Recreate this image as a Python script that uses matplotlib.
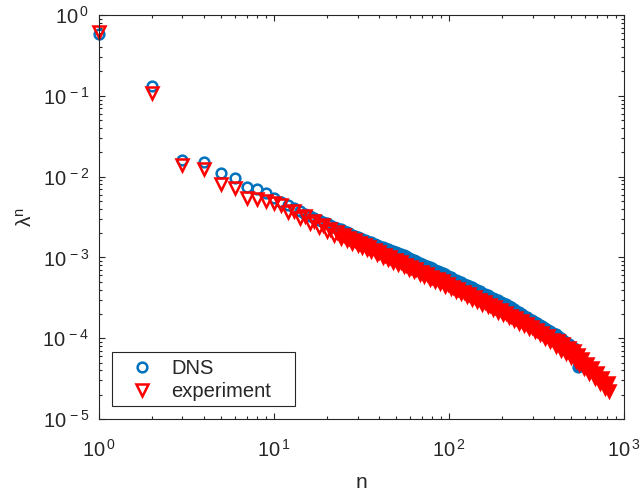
import math
import matplotlib
matplotlib.use("Agg")
import matplotlib.pyplot as plt
from matplotlib.patches import Rectangle
from matplotlib.ticker import LogLocator, FuncFormatter, NullFormatter

# ---------------------------------------------------------------------
# eigenvalue spectra (mode index n vs lambda^n)
# ---------------------------------------------------------------------
dns_n = [1, 2, 3, 4, 5, 6, 7, 8, 9, 10,
         11, 12, 13, 14, 15, 16, 17, 18, 19, 20,
         21, 22, 23, 24, 25, 26, 27, 28, 29, 30,
         31, 32, 33, 34, 35, 36, 38, 39, 40, 42,
         43, 45, 46, 48, 50, 51, 53, 55, 57, 59,
         61, 63, 65, 68, 70, 72, 75, 78, 80, 83,
         86, 89, 92, 95, 99, 102, 106, 110, 113, 117,
         122, 126, 130, 135, 140, 145, 150, 155, 160, 166,
         172, 178, 184, 190, 197, 204, 211, 219, 226, 234,
         242, 251, 260, 269, 278, 288, 298, 308, 319, 330,
         342, 354, 366, 379, 392, 406, 420, 435, 450, 466,
         482, 499, 516, 534, 546]
dns_lam = [0.58, 0.132, 0.0161, 0.0150, 0.0112, 0.0095, 0.0074, 0.0070, 0.0063, 0.0054,
           4.89e-3, 4.43e-3, 4.06e-3, 3.73e-3, 3.47e-3, 3.26e-3, 3.08e-3, 2.91e-3, 2.76e-3, 2.63e-3,
           2.51e-3, 2.40e-3, 2.30e-3, 2.22e-3, 2.13e-3, 2.06e-3, 1.99e-3, 1.92e-3, 1.86e-3, 1.81e-3,
           1.75e-3, 1.70e-3, 1.66e-3, 1.61e-3, 1.57e-3, 1.53e-3, 1.46e-3, 1.43e-3, 1.40e-3, 1.34e-3,
           1.32e-3, 1.27e-3, 1.24e-3, 1.20e-3, 1.16e-3, 1.14e-3, 1.10e-3, 1.06e-3, 1.03e-3, 9.91e-4,
           9.59e-4, 9.29e-4, 9.00e-4, 8.61e-4, 8.36e-4, 8.13e-4, 7.81e-4, 7.51e-4, 7.32e-4, 7.06e-4,
           6.82e-4, 6.59e-4, 6.36e-4, 6.15e-4, 5.89e-4, 5.70e-4, 5.48e-4, 5.27e-4, 5.12e-4, 4.94e-4,
           4.72e-4, 4.57e-4, 4.42e-4, 4.25e-4, 4.09e-4, 3.93e-4, 3.79e-4, 3.66e-4, 3.54e-4, 3.40e-4,
           3.27e-4, 3.15e-4, 3.04e-4, 2.94e-4, 2.82e-4, 2.72e-4, 2.62e-4, 2.50e-4, 2.40e-4, 2.30e-4,
           2.20e-4, 2.09e-4, 2.00e-4, 1.91e-4, 1.83e-4, 1.75e-4, 1.67e-4, 1.60e-4, 1.53e-4, 1.46e-4,
           1.40e-4, 1.33e-4, 1.28e-4, 1.22e-4, 1.17e-4, 1.12e-4, 1.07e-4, 1.02e-4, 9.58e-5, 9.02e-5,
           8.51e-5, 8.01e-5, 7.55e-5, 6.30e-5, 4.37e-5]

exp_n = [1, 2, 3, 4, 5, 6, 7, 8, 9, 10,
         11, 12, 13, 14, 15, 16, 17, 18, 19, 20,
         21, 22, 23, 24, 25, 26, 27, 28, 29, 30,
         31, 32, 33, 34, 35, 36, 38, 39, 40, 42,
         43, 45, 46, 48, 50, 51, 53, 55, 57, 59,
         61, 63, 65, 68, 70, 72, 75, 78, 80, 83,
         86, 89, 92, 95, 99, 102, 106, 110, 113, 117,
         122, 126, 130, 135, 140, 145, 150, 155, 160, 166,
         172, 178, 184, 190, 197, 204, 211, 219, 226, 234,
         242, 251, 260, 269, 278, 288, 298, 308, 319, 330,
         342, 354, 366, 379, 392, 406, 420, 435, 450, 466,
         482, 499, 516, 534, 546, 553, 572, 592, 613, 634,
         656, 679, 703, 728, 753, 780, 807, 820]
exp_lam = [0.62, 0.108, 0.0139, 0.0123, 0.0082, 0.0072, 0.0055, 0.0053, 0.0050, 0.0047,
           4.51e-3, 3.66e-3, 3.77e-3, 3.10e-3, 3.23e-3, 2.69e-3, 2.83e-3, 2.38e-3, 2.52e-3, 2.12e-3,
           2.26e-3, 1.92e-3, 2.06e-3, 1.76e-3, 1.89e-3, 1.62e-3, 1.75e-3, 1.51e-3, 1.63e-3, 1.41e-3,
           1.50e-3, 1.34e-3, 1.41e-3, 1.26e-3, 1.33e-3, 1.19e-3, 1.22e-3, 1.09e-3, 1.16e-3, 1.02e-3,
           1.08e-3, 9.48e-4, 1.01e-3, 8.87e-4, 9.25e-4, 8.36e-4, 8.73e-4, 7.74e-4, 8.11e-4, 7.21e-4,
           7.59e-4, 6.76e-4, 7.13e-4, 6.27e-4, 6.62e-4, 5.93e-4, 6.18e-4, 5.47e-4, 5.79e-4, 5.15e-4,
           5.40e-4, 4.81e-4, 5.04e-4, 4.48e-4, 4.66e-4, 4.15e-4, 4.34e-4, 3.84e-4, 4.05e-4, 3.59e-4,
           3.73e-4, 3.32e-4, 3.48e-4, 3.08e-4, 3.22e-4, 2.86e-4, 2.99e-4, 2.65e-4, 2.79e-4, 2.47e-4,
           2.58e-4, 2.29e-4, 2.40e-4, 2.13e-4, 2.23e-4, 1.97e-4, 2.07e-4, 1.82e-4, 1.91e-4, 1.69e-4,
           1.76e-4, 1.56e-4, 1.62e-4, 1.44e-4, 1.50e-4, 1.33e-4, 1.38e-4, 1.23e-4, 1.28e-4, 1.13e-4,
           1.17e-4, 1.02e-4, 1.06e-4, 9.30e-5, 9.62e-5, 7.92e-5, 9.28e-5, 7.17e-5, 8.41e-5, 6.50e-5,
           7.62e-5, 5.89e-5, 6.88e-5, 5.21e-5, 6.14e-5, 4.86e-5, 5.58e-5, 4.23e-5, 4.85e-5, 3.69e-5,
           4.23e-5, 3.20e-5, 3.67e-5, 2.78e-5, 3.19e-5, 2.42e-5, 2.77e-5, 2.25e-5]

# ---------------------------------------------------------------------
# style
# ---------------------------------------------------------------------
ink = (0.15, 0.15, 0.15)
blue = "#0072BD"
red = "#FF0000"
plt.rcParams["font.family"] = ["Liberation Sans", "DejaVu Sans"]
plt.rcParams["mathtext.fontset"] = "custom"
plt.rcParams["mathtext.rm"] = "Liberation Sans"
plt.rcParams["mathtext.it"] = "Liberation Sans:italic"

fig = plt.figure(figsize=(6.42, 4.94), dpi=100)
ax = fig.add_axes([0.1542, 0.1518, 0.8178, 0.8178])

# the leading modes stand apart as open symbols; from n = 24 on the
# symbols overlap into a solid band, so those are drawn filled
k_dns = dns_n.index(24)
k_exp = exp_n.index(24)
circ = dict(marker="o", ls="none", ms=7, mew=1.8, mec=blue, clip_on=False)
tri = dict(marker="v", ls="none", ms=8, mew=1.8, mec=red, clip_on=False)

ax.plot(dns_n[:k_dns], dns_lam[:k_dns], mfc="none", **circ)
ax.plot(dns_n[k_dns:], dns_lam[k_dns:], mfc=blue, **circ)
ax.plot(exp_n[:k_exp], exp_lam[:k_exp], mfc="none", **tri)
ax.plot(exp_n[k_exp:], exp_lam[k_exp:], mfc=red, **tri)

ax.set_xscale("log")
ax.set_yscale("log")
ax.set_xlim(1, 1000)
ax.set_ylim(1e-5, 1)


def decade_label(v, pos):
    return r"$\mathregular{10^{\,%d}}$" % round(math.log10(v))


for axis in (ax.xaxis, ax.yaxis):
    axis.set_major_locator(LogLocator(base=10, numticks=10))
    axis.set_minor_locator(LogLocator(base=10, subs=range(2, 10), numticks=10))
    axis.set_major_formatter(FuncFormatter(decade_label))
    axis.set_minor_formatter(NullFormatter())

ax.tick_params(which="both", direction="in", top=True, right=True,
               colors=ink, labelcolor=ink, width=0.8, labelsize=14.5)
ax.tick_params(which="major", length=4)
ax.tick_params(which="minor", length=2.5)
ax.tick_params(axis="x", pad=14)
ax.tick_params(axis="y", pad=7)
for s in ax.spines.values():
    s.set_color(ink)
    s.set_linewidth(0.8)

ax.set_xlabel("n", fontsize=15, color=ink, labelpad=9)
ax.set_ylabel(r"$\mathregular{\lambda^n}$", fontsize=15, color=ink, labelpad=5)

# legend: entries without frame, box drawn separately
h1, = ax.plot([], [], "o", ms=7, mew=1.8, mfc="none", mec=blue)
h2, = ax.plot([], [], "v", ms=8, mew=1.8, mfc="none", mec=red)
leg = ax.legend([h1, h2], ["DNS", "experiment"], loc="lower left",
                bbox_to_anchor=(0.0248, 0.032), borderaxespad=0,
                fontsize=14.5, frameon=False, handletextpad=0.2,
                borderpad=0.25, labelspacing=0.22, handlelength=2.5)
for t in leg.get_texts():
    t.set_color(ink)
ax.add_patch(Rectangle((0.0248, 0.032), 0.349, 0.134, transform=ax.transAxes,
                       fill=True, facecolor="white", edgecolor=ink, lw=0.8,
                       zorder=4.9))
leg.set_zorder(5)

fig.savefig("out.png", dpi=100)
